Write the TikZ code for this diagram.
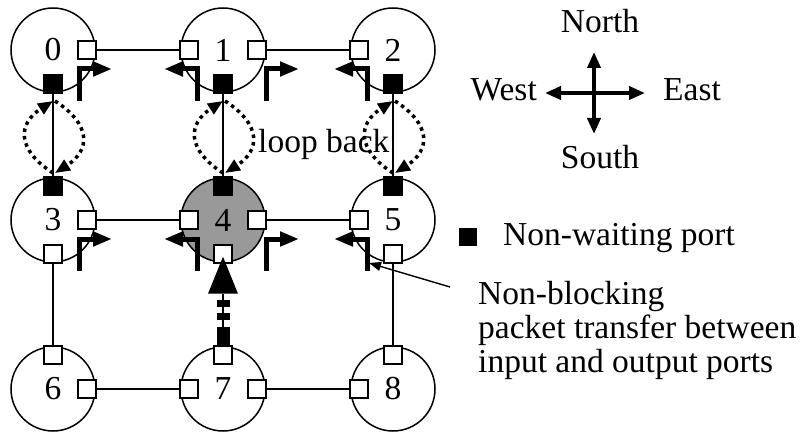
\documentclass[tikz,border=0pt]{standalone}
\usepackage{fontspec}
\setmainfont{Liberation Serif}
\usetikzlibrary{arrows.meta,calc}
\begin{document}
\begin{tikzpicture}[x=1pt,y=-1pt,
  txt/.style={font=\fontsize{33.5}{36}\selectfont, inner sep=0pt},
  router/.style={circle, draw, line width=1.5pt, minimum size=84pt, inner sep=0pt, font=\fontsize{33.5}{36}\selectfont},
  wport/.style={rectangle, draw, fill=white, line width=1.4pt, minimum size=18pt, inner sep=0pt},
  bport/.style={rectangle, draw, fill=black, line width=1.4pt, minimum size=18pt, inner sep=0pt},
  link/.style={line width=1.5pt},
  turn/.style={line width=5pt, line join=miter, -{Triangle[length=19pt,width=14pt]}},
  loopc/.style={line width=3.5pt, dash pattern=on 3.5pt off 4pt, -{Triangle[length=15pt,width=12pt]}},
  comp/.style={line width=3.8pt, -{Triangle[length=16pt,width=13pt]}},
  thinarrow/.style={line width=1.4pt, -{Triangle[length=12pt,width=9pt]}}
]
\useasboundingbox (0,0) rectangle (801,433);

% routers
\node[router] (n0) at (53,50) {0};
\node[router] (n1) at (223,50) {1};
\node[router] (n2) at (393,50) {2};
\node[router] (n3) at (53,220) {3};
\node[router, fill=black!40] (n4) at (223,220) {4};
\node[router] (n5) at (393,220) {5};
\node[router] (n6) at (53,389) {6};
\node[router] (n7) at (223,389) {7};
\node[router] (n8) at (393,389) {8};

% ports
\node[wport] (n0e) at (87,50) {};
\node[bport] (n0s) at (53,84) {};
\node[wport] (n1w) at (189,50) {};
\node[wport] (n1e) at (257,50) {};
\node[bport] (n1s) at (223,84) {};
\node[wport] (n2w) at (359,50) {};
\node[bport] (n2s) at (393,84) {};
\node[bport] (n3n) at (53,186) {};
\node[wport] (n3e) at (87,220) {};
\node[wport] (n3s) at (53,254) {};
\node[bport] (n4n) at (223,186) {};
\node[wport] (n4w) at (189,220) {};
\node[wport] (n4e) at (257,220) {};
\node[wport] (n4s) at (223,254) {};
\node[bport] (n5n) at (393,186) {};
\node[wport] (n5w) at (359,220) {};
\node[wport] (n5s) at (393,254) {};
\node[wport] (n6n) at (53,355) {};
\node[wport] (n6e) at (87,389) {};
\node[wport] (n7n) at (223,355) {};
\node[wport] (n7w) at (189,389) {};
\node[wport] (n7e) at (257,389) {};
\node[wport] (n8n) at (393,355) {};
\node[wport] (n8w) at (359,389) {};

% links
\draw[link] (n0e) -- (n1w);
\draw[link] (n1e) -- (n2w);
\draw[link] (n3e) -- (n4w);
\draw[link] (n4e) -- (n5w);
\draw[link] (n6e) -- (n7w);
\draw[link] (n7e) -- (n8w);
\draw[link] (n0s) -- (n3n);
\draw[link] (n1s) -- (n4n);
\draw[link] (n2s) -- (n5n);
\draw[link] (n3s) -- (n6n);
\draw[link] (n5s) -- (n8n);

% loop back circles
\foreach \cx in {53,223,393}{
  \coordinate (lt\cx) at (\cx,101);
  \coordinate (lb\cx) at (\cx,173);
  \draw[loopc] (lb\cx) .. controls ($(lb\cx)+(-36,-23)$) and ($(lt\cx)+(-36,23)$) .. (lt\cx);
  \draw[loopc] ($(lt\cx)+(2,0)$) .. controls ($(lt\cx)+(38,23)$) and ($(lb\cx)+(38,-23)$) .. ($(lb\cx)+(2,0)$);
}
\node[txt, anchor=base west] (lbk) at (258,153) {loop back};

% non-blocking turns (east)
\draw[turn] (79,101) -- (79,69) -- (112,69);
\draw[turn] (266,101) -- (266,69) -- (299,69);
\draw[turn] (79,271) -- (79,239) -- (112,239);
\draw[turn] (266,271) -- (266,239) -- (299,239);
% non-blocking turns (west)
\draw[turn] (197,101) -- (197,69) -- (164,69);
\draw[turn] (367,101) -- (367,69) -- (334,69);
\draw[turn] (197,271) -- (197,239) -- (164,239);
\draw[turn] (367,271) -- (367,239) -- (334,239);

% packet from 7 to 4
\coordinate (ptip) at ($(n4s.south)+(0,-7)$);
\draw[line width=1.4pt] (n7n.north) -- ($(ptip)+(0,37)$);
\fill (ptip) -- ++(-15,37) -- ++(30,0) -- cycle;
\fill (216.5,300) rectangle (229.5,306.5);
\fill (216.5,313) rectangle (229.5,319.5);
\fill (216.5,327) rectangle (229.5,347);

% compass
\coordinate (cc) at (594,93);
\coordinate (cN) at (594,52);
\coordinate (cS) at (594,134);
\coordinate (cW) at (545,93);
\coordinate (cE) at (645,93);
\draw[comp] (cc) -- (cN);
\draw[comp] (cc) -- (cS);
\draw[comp] (cc) -- (cW);
\draw[comp] (cc) -- (cE);
\node[txt, anchor=base] (tN) at (600,33) {North};
\node[txt, anchor=base] (tS) at (600,168) {South};
\node[txt, anchor=base east] (tW) at (537,101) {West};
\node[txt, anchor=base west] (tE) at (663,101) {East};

% legend
\node[rectangle, fill=black, minimum size=18pt, inner sep=0pt] (leg) at (467.5,237) {};
\node[txt, anchor=base west] (legt) at (503,245) {Non-waiting port};

% non-blocking note
\node[txt, anchor=base west] (nb1) at (478,304) {Non-blocking};
\node[txt, anchor=base west] (nb2) at (478,338) {packet transfer between};
\node[txt, anchor=base west] (nb3) at (478,372) {input and output ports};
\coordinate (nbs) at (450,287);
\coordinate (nbe) at (369,263);
\draw[thinarrow] (nbs) -- (nbe);
\end{tikzpicture}
\end{document}
